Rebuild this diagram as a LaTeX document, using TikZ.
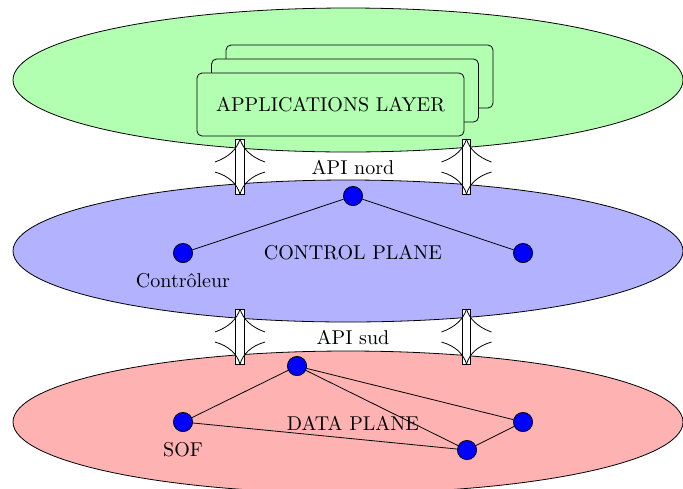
\documentclass[tikz,border=0pt]{standalone}
\usepackage{fontspec}
\usetikzlibrary{shadows,calc}
\begin{document}
\begin{tikzpicture}[x=0.5pt,y=-0.5pt,
  plane/.style={draw=black, line width=0.4pt},
  dot/.style={circle, draw=black, fill=blue, minimum size=9.6pt, inner sep=0pt, line width=0.4pt},
  link/.style={line width=0.4pt},
  apps/.style={draw=black, fill=green!30, rounded corners=2.5pt, minimum width=133.5pt, minimum height=31.5pt, line width=0.4pt,
     double copy shadow={shadow xshift=7.25pt, shadow yshift=7pt, fill=green!30, draw=black}},
  shaft/.style={draw=black, fill=white, line width=0.4pt},
  barb/.style={draw=black, line width=0.4pt}]
\useasboundingbox (0,0) rectangle (683,488);
% planes
\draw[plane, fill=green!30] (348,80) ellipse [x radius=167.5pt, y radius=36pt];
\draw[plane, fill=blue!30] (348,251) ellipse [x radius=167.5pt, y radius=35.5pt];
\draw[plane, fill=red!30] (348,422) ellipse [x radius=167.5pt, y radius=35.5pt];
% applications layer
\node[apps] (app) at (330.5,104.5) {APPLICATIONS LAYER};
% arrows
\coordinate (n1a) at (240,139);
\coordinate (n1b) at (240,194);
\coordinate (n2a) at (466.5,139);
\coordinate (n2b) at (466.5,194);
\coordinate (s1a) at (240,309);
\coordinate (s1b) at (240,364);
\coordinate (s2a) at (466.5,309);
\coordinate (s2b) at (466.5,364);
\foreach \a/\b in {n1a/n1b, n2a/n2b, s1a/s1b, s2a/s2b}{
  \draw[shaft] ($(\a)+(-4.3,0)$) rectangle ($(\b)+(4.3,0)$);
  \draw[barb] (\a) .. controls ($(\a)+(-3,10)$) and ($(\a)+(-11,18)$) .. ($(\a)+(-25,23)$);
  \draw[barb] (\a) .. controls ($(\a)+(3,10)$) and ($(\a)+(11,18)$) .. ($(\a)+(25,23)$);
  \draw[barb] (\b) .. controls ($(\b)+(-3,-10)$) and ($(\b)+(-11,-18)$) .. ($(\b)+(-25,-22)$);
  \draw[barb] (\b) .. controls ($(\b)+(3,-10)$) and ($(\b)+(11,-18)$) .. ($(\b)+(25,-22)$);
}
\node (apin) at (353,167) {API nord};
\node (apis) at (353,337) {API sud};
% control plane
\node[dot] (c1) at (353,196) {};
\node[dot] (c2) at (183,253) {};
\node[dot] (c3) at (523,253) {};
\draw[link] (c1) -- (c2);
\draw[link] (c1) -- (c3);
\node (cp) at (353,253) {CONTROL PLANE};
\node (ctrl) at (183,281) {Contrôleur};
% data plane
\node[dot] (d1) at (297,366) {};
\node[dot] (d2) at (183,422) {};
\node[dot] (d3) at (523,422) {};
\node[dot] (d4) at (467,450) {};
\draw[link] (d1) -- (d2);
\draw[link] (d1) -- (d3);
\draw[link] (d1) -- (d4);
\draw[link] (d2) -- (d4);
\draw[link] (d4) -- (d3);
\node (dp) at (353,423) {DATA PLANE};
\node (sof) at (183,450) {SOF};
\end{tikzpicture}
\end{document}
